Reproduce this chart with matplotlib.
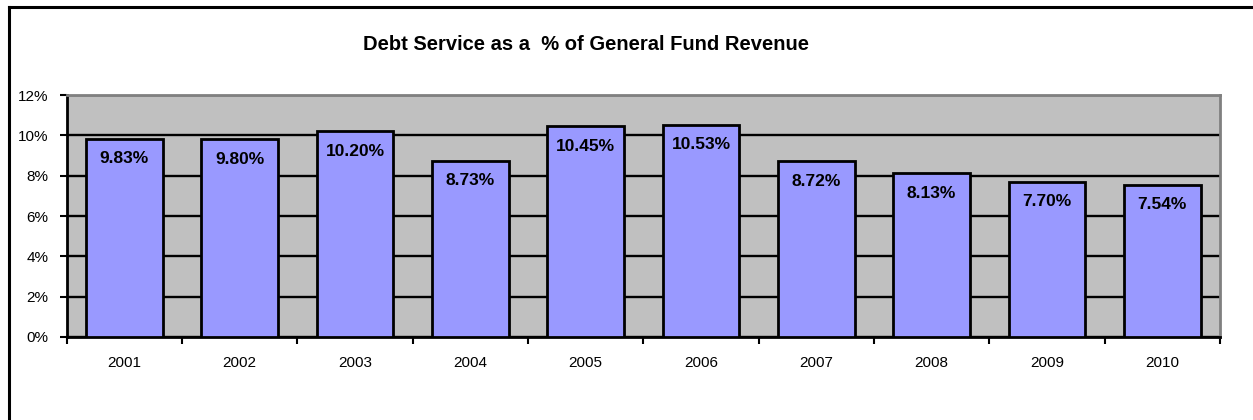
import matplotlib
matplotlib.use("Agg")
import matplotlib.pyplot as plt
from matplotlib.lines import Line2D
from matplotlib.ticker import FuncFormatter, FixedLocator

years = ["2001", "2002", "2003", "2004", "2005", "2006", "2007", "2008", "2009", "2010"]
values = [9.83, 9.80, 10.20, 8.73, 10.45, 10.53, 8.72, 8.13, 7.70, 7.54]
title = "Debt Service as a  % of General Fund Revenue"

plt.rcParams['font.family'] = ['Liberation Sans', 'DejaVu Sans']

fig = plt.figure(figsize=(12.53, 4.2), dpi=100)
ax = fig.add_axes([66.7 / 1253, 1 - 337 / 420, (1220 - 66.7) / 1253, (337 - 95) / 420])

ax.set_facecolor("#C0C0C0")
x = list(range(len(years)))
ax.set_axisbelow(True)
ax.yaxis.grid(True, color="black", linewidth=1.7)
bars = ax.bar(x, values, width=0.667, color="#9999FF", edgecolor="black", linewidth=2.0, zorder=3)

ax.set_xlim(-0.5, len(years) - 0.5)
ax.set_ylim(0, 12)
ax.set_yticks(range(0, 13, 2))
ax.yaxis.set_major_formatter(FuncFormatter(lambda v, p: f"{int(v)}%"))
ax.set_xticks(x)
ax.set_xticklabels(years, fontsize=11)
ax.xaxis.set_minor_locator(FixedLocator([i - 0.5 for i in range(len(years) + 1)]))
ax.tick_params(axis="x", which="major", length=0, pad=14)
ax.tick_params(axis="x", which="minor", length=5, width=1.5, direction="out")
ax.tick_params(axis="y", length=5, width=1.5, direction="out", labelsize=11, pad=8)

for side in ["left", "bottom"]:
    ax.spines[side].set_color("black")
    ax.spines[side].set_linewidth(2)
for side in ["top", "right"]:
    ax.spines[side].set_color("#808080")
    ax.spines[side].set_linewidth(2)

for xi, v in zip(x, values):
    ax.annotate(f"{v:.2f}%", xy=(xi, v), xytext=(0, -20), textcoords="offset pixels",
                ha="center", va="center", fontsize=12.5, fontweight="bold", zorder=4)

fig.text(586 / 1253, 1 - 45 / 420, title, ha="center", va="center", fontsize=14.5, fontweight="bold")

fig.add_artist(Line2D([9 / 1253, 9 / 1253], [0, 1 - 6.5 / 420], transform=fig.transFigure, color="black", linewidth=2.2))
fig.add_artist(Line2D([9 / 1253, 1], [1 - 6.5 / 420, 1 - 6.5 / 420], transform=fig.transFigure, color="black", linewidth=2.2))

fig.savefig("out.png", dpi=100)
